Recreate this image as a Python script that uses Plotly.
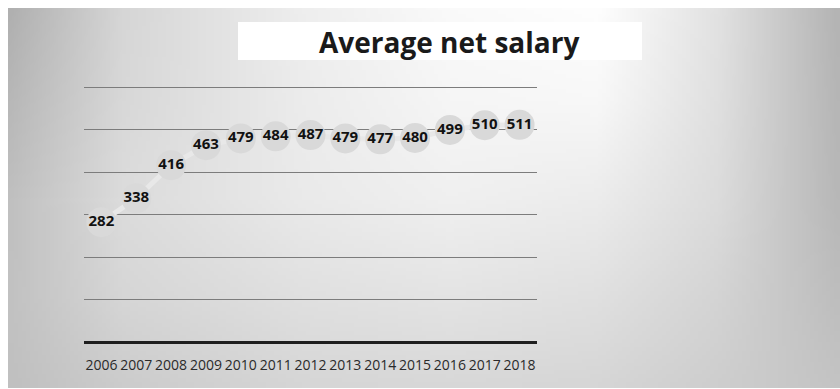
import base64
import struct
import zlib

import numpy as np
import plotly.graph_objects as go

# Average net salary by year
years = ["2006", "2007", "2008", "2009", "2010", "2011", "2012",
         "2013", "2014", "2015", "2016", "2017", "2018"]
salary = [282, 338, 416, 463, 479, 484, 487, 479, 477, 480, 499, 510, 511]
title_text = "Average net salary"

W, H = 840, 389


def grey_png(arr):
    """Encode a 2-D uint8 array as a greyscale PNG data URI."""
    h, w = arr.shape
    raw = b"".join(b"\x00" + arr[i].tobytes() for i in range(h))

    def chunk(tag, data):
        body = tag + data
        return struct.pack(">I", len(data)) + body + struct.pack(">I", zlib.crc32(body) & 0xFFFFFFFF)

    png = b"\x89PNG\r\n\x1a\n"
    png += chunk(b"IHDR", struct.pack(">IIBBBBB", w, h, 8, 0, 0, 0, 0))
    png += chunk(b"IDAT", zlib.compress(raw, 9))
    png += chunk(b"IEND", b"")
    return "data:image/png;base64," + base64.b64encode(png).decode()


def backdrop():
    """Soft grey vignette, bright near the top centre-right."""
    gx = np.array([8, 120, 300, 450, 600, 720, 840], float)
    gy = np.array([8, 100, 200, 300, 388], float)
    gv = np.array([
        [176, 214, 238, 250, 254, 226, 180],
        [184, 216, 236, 246, 248, 224, 182],
        [192, 220, 234, 240, 236, 220, 184],
        [194, 214, 224, 228, 224, 212, 190],
        [192, 204, 214, 216, 214, 206, 196],
    ], float)
    xs = np.linspace(8, 840, 208)
    ys = np.linspace(8, 388, 96)
    rows = np.array([np.interp(xs, gx, r) for r in gv])
    img = np.array([np.interp(ys, gy, rows[:, j]) for j in range(len(xs))]).T
    return np.clip(img, 0, 255).astype(np.uint8)


fig = go.Figure()

fig.add_trace(go.Scatter(
    x=years,
    y=salary,
    mode="lines+markers+text",
    line=dict(color="#e8e8e8", width=5),
    marker=dict(size=30, color="#d9d9d9", line=dict(width=0)),
    text=[str(v) for v in salary],
    textposition="middle center",
    textfont=dict(family="Open Sans", size=15, color="#111111", weight=700),
    hoverinfo="skip",
    cliponaxis=False,
    showlegend=False,
))

# title box
fig.add_shape(type="rect", xref="paper", yref="paper",
              x0=238 / W, x1=642 / W, y0=1 - 60 / H, y1=1 - 22 / H,
              fillcolor="white", line=dict(width=0), layer="below")
fig.add_annotation(text=title_text, xref="paper", yref="paper",
                   x=449 / W, y=1 - 42 / H, xanchor="center", yanchor="middle",
                   showarrow=False,
                   font=dict(family="Open Sans", size=28, color="#1a1a1a", weight=700))

fig.add_layout_image(dict(
    source=grey_png(backdrop()),
    xref="paper", yref="paper",
    x=8 / W, y=1 - 8 / H, sizex=832 / W, sizey=380 / H,
    xanchor="left", yanchor="top", sizing="stretch", layer="below",
))

fig.update_layout(
    width=W, height=H,
    margin=dict(l=0, r=0, t=0, b=0),
    paper_bgcolor="white",
    plot_bgcolor="rgba(0,0,0,0)",
    xaxis=dict(
        domain=[84 / W, 537 / W],
        type="category",
        range=[-0.5, len(years) - 0.5],
        showgrid=False, zeroline=False, showline=False,
        ticks="", tickfont=dict(family="Open Sans", size=14, color="#2a2a2a"),
        ticklabelstandoff=13,
    ),
    yaxis=dict(
        domain=[(H - 342) / H, (H - 78.5) / H],
        range=[0, 620],
        dtick=100, tick0=0,
        showgrid=True, gridcolor="#7c7c7c", gridwidth=1.4,
        zeroline=True, zerolinecolor="#1e1e1e", zerolinewidth=3,
        showticklabels=False, ticks="",
    ),
)

fig.write_html("out.html")
